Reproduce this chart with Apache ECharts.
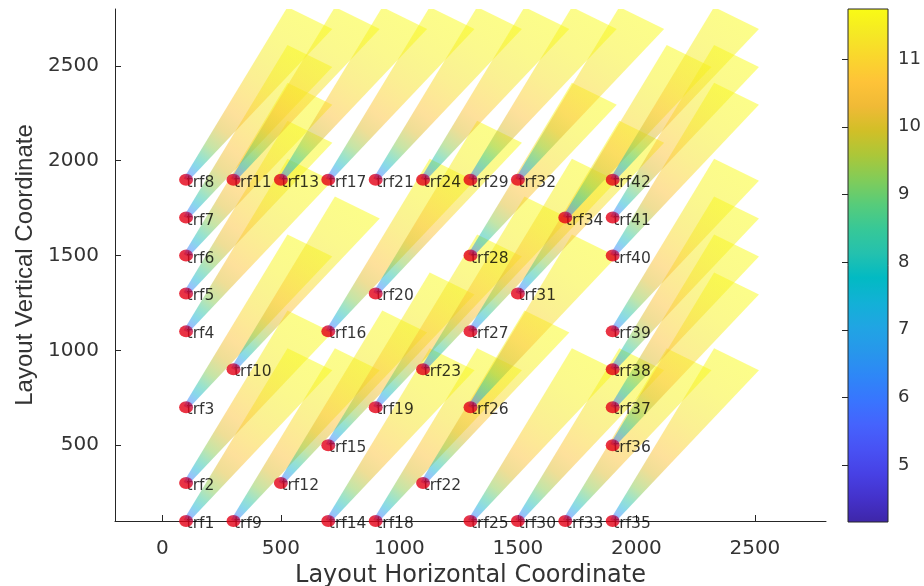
<!DOCTYPE html>
<html><head><meta charset="utf-8">
<script src="https://cdn.jsdelivr.net/npm/echarts@6/dist/echarts.min.js"></script>
<style>html,body{margin:0;padding:0;background:#fff}#c{width:924px;height:586px}</style>
</head><body><div id="c"></div>
<script>
// ---------------- data ----------------
const turbineNames = ['trf1','trf2','trf3','trf4','trf5','trf6','trf7','trf8',
  'trf9','trf10','trf11','trf12','trf13','trf14','trf15','trf16','trf17',
  'trf18','trf19','trf20','trf21','trf22','trf23','trf24',
  'trf25','trf26','trf27','trf28','trf29','trf30','trf31','trf32','trf33','trf34',
  'trf35','trf36','trf37','trf38','trf39','trf40','trf41','trf42'];
const turbineX = [100,100,100,100,100,100,100,100,
  300,300,300, 500,500, 700,700,700,700,
  900,900,900,900, 1100,1100,1100,
  1300,1300,1300,1300,1300, 1500,1500,1500, 1700,1700,
  1900,1900,1900,1900,1900,1900,1900,1900];
const turbineY = [100,300,700,1100,1300,1500,1700,1900,
  100,900,1900, 300,1900, 100,500,1100,1900,
  100,700,1300,1900, 300,900,1900,
  100,700,1100,1500,1900, 100,1300,1900, 100,1700,
  100,500,700,900,1100,1500,1700,1900];
const xTicks = [0,500,1000,1500,2000,2500];
const yTicks = [500,1000,1500,2000,2500];
const colorTicks = [5,6,7,8,9,10,11];
const colorRange = [4.16, 11.74];
// wind speed along each wake (distance downstream -> speed)
const wakeDist  = [0,   40,  80,  130, 200, 300,  400,  500,   600,  700,  800,   900,   1000];
const wakeSpeed = [4.6, 6.3, 7.4, 8.4, 9.3, 10.1, 10.6, 10.95, 11.2, 11.4, 11.55, 11.65, 11.74];
const windAngleDeg = 58.5;
const wakeLength = 1000;
const wakeR0 = 12;
const wakeRL = 111;

// parula colormap anchors
const parula = [[62,38,168],[68,50,203],[71,65,229],[72,82,244],[69,99,253],[56,117,254],
  [46,135,247],[39,151,235],[32,165,227],[18,177,214],[2,186,195],[36,193,174],
  [55,200,151],[87,204,122],[129,204,89],[171,199,57],[209,191,39],[240,186,54],
  [254,195,56],[250,214,45],[245,233,36],[249,251,21]];
function parulaColor(v, a) {
  let t = (v - colorRange[0]) / (colorRange[1] - colorRange[0]);
  t = Math.max(0, Math.min(1, t)) * (parula.length - 1);
  const i = Math.min(parula.length - 2, Math.floor(t));
  const f = t - i;
  const c = parula[i].map((p, k) => Math.round(p + (parula[i + 1][k] - p) * f));
  return 'rgba(' + c[0] + ',' + c[1] + ',' + c[2] + ',' + a + ')';
}

const points = turbineX.map((x, i) => [x, turbineY[i], turbineNames[i]]);
const axisColor = '#262626';
const plain = v => String(v);
const tickFont = {fontFamily: 'DejaVu Sans', fontSize: 20, color: '#333', formatter: plain};

const chart = echarts.init(document.getElementById('c'), null, {renderer: 'canvas'});
chart.setOption({
  animation: false,
  grid: [
    {left: 115, top: 9, width: 711, height: 512, containLabel: false, outerBoundsMode: 'none'},
    {left: 848, top: 9, width: 40, height: 513, containLabel: false, outerBoundsMode: 'none'}
  ],
  xAxis: [
    {gridIndex: 0, type: 'value', min: -200, max: 2800,
     axisLine: {show: true, onZero: false, lineStyle: {color: axisColor, width: 1}},
     axisTick: {show: true, inside: true, length: 6, customValues: xTicks, lineStyle: {color: axisColor}},
     axisLabel: Object.assign({customValues: xTicks, margin: 18}, tickFont),
     splitLine: {show: false},
     name: 'Layout Horizontal Coordinate', nameLocation: 'middle', nameGap: 35,
     nameTextStyle: {fontFamily: 'DejaVu Sans', fontSize: 24, color: '#333'}},
    {gridIndex: 1, type: 'value', min: 0, max: 1, show: false}
  ],
  yAxis: [
    {gridIndex: 0, type: 'value', min: 100, max: 2800,
     axisLine: {show: true, onZero: false, lineStyle: {color: axisColor, width: 1}},
     axisTick: {show: true, inside: true, length: 6, customValues: yTicks, lineStyle: {color: axisColor}},
     axisLabel: Object.assign({customValues: yTicks, margin: 16}, tickFont),
     splitLine: {show: false},
     name: 'Layout Vertical Coordinate', nameLocation: 'middle', nameGap: 73, nameRotate: 90,
     nameTextStyle: {fontFamily: 'Liberation Sans', fontSize: 24, color: '#333'}},
    {gridIndex: 1, type: 'value', min: colorRange[0], max: colorRange[1], position: 'right',
     axisLine: {show: false},
     axisTick: {show: true, inside: true, length: 6, customValues: colorTicks, lineStyle: {color: axisColor}},
     axisLabel: {customValues: colorTicks, margin: 10, fontFamily: 'DejaVu Sans', fontSize: 18, color: '#333', formatter: plain},
     splitLine: {show: false}}
  ],
  series: [
    {
      type: 'custom', xAxisIndex: 1, yAxisIndex: 1, z: 1, silent: true,
      data: [[0, colorRange[0]]],
      renderItem: function (params, api) {
        const p1 = api.coord([0, colorRange[1]]);
        const p2 = api.coord([1, colorRange[0]]);
        const stops = parula.map((c, i) => ({offset: i / (parula.length - 1), color: 'rgb(' + c.join(',') + ')'}));
        return {type: 'rect', shape: {x: p1[0], y: p1[1], width: p2[0] - p1[0], height: p2[1] - p1[1]},
          style: {fill: new echarts.graphic.LinearGradient(0, 1, 0, 0, stops), stroke: axisColor, lineWidth: 1}};
      }
    },
    {
      type: 'custom', xAxisIndex: 0, yAxisIndex: 0, z: 2, silent: true, clip: true,
      data: points,
      renderItem: function (params, api) {
        const x = api.value(0), y = api.value(1);
        const th = windAngleDeg * Math.PI / 180;
        const ux = Math.cos(th), uy = Math.sin(th);
        const nx = Math.sin(th), ny = -Math.cos(th);
        const ex = x + ux * wakeLength, ey = y + uy * wakeLength;
        const pts = [
          api.coord([x + nx * wakeR0, y + ny * wakeR0]),
          api.coord([ex + nx * wakeRL, ey + ny * wakeRL]),
          api.coord([ex - nx * wakeRL, ey - ny * wakeRL]),
          api.coord([x - nx * wakeR0, y - ny * wakeR0])
        ];
        const s = api.coord([x, y]), e = api.coord([ex, ey]);
        const stops = wakeDist.map((d, i) => ({offset: d / wakeLength, color: parulaColor(wakeSpeed[i], 0.5)}));
        return {type: 'polygon', shape: {points: pts},
          style: {fill: new echarts.graphic.LinearGradient(s[0], s[1], e[0], e[1], stops, true)}};
      }
    },
    {
      type: 'scatter', xAxisIndex: 0, yAxisIndex: 0, z: 3, silent: true,
      data: points, symbolSize: 1, itemStyle: {color: 'rgba(0,0,0,0)'},
      label: {show: true, position: 'right', distance: 0, offset: [0, 3],
        formatter: p => p.value[2], fontFamily: 'DejaVu Sans', fontSize: 15.5, color: '#000'},
      emphasis: {disabled: true}
    },
    {
      type: 'scatter', xAxisIndex: 0, yAxisIndex: 0, z: 4, silent: true,
      data: points, symbol: 'circle', symbolSize: [14, 12],
      itemStyle: {color: new echarts.graphic.LinearGradient(0, 1, 1, 0, [
        {offset: 0, color: '#e8000f'}, {offset: 0.55, color: '#e0001a'}, {offset: 1, color: '#8a2f9a'}])},
      emphasis: {disabled: true}
    }
  ]
});
</script>
</body></html>
